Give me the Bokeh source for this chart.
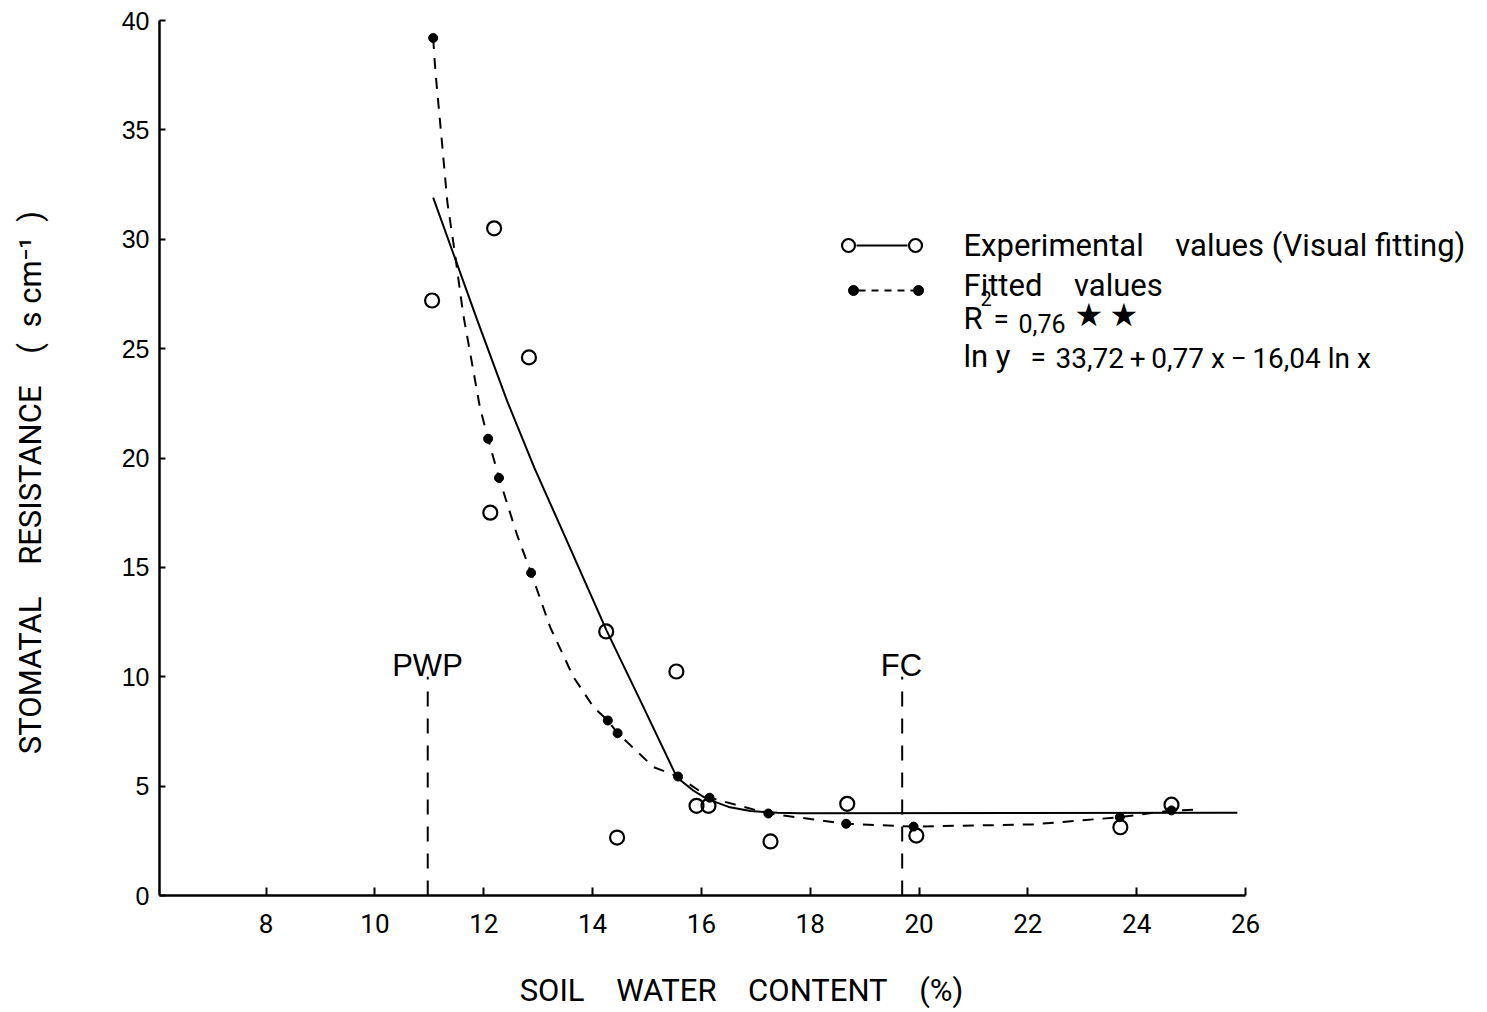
import math
from bokeh.plotting import figure
from bokeh.models import Label, FixedTicker, Range1d
from bokeh.embed import file_html
from bokeh.resources import INLINE

# ---------------- data ----------------
exp_x = [11.05, 12.19, 12.83, 12.12, 14.25, 15.54, 14.45, 15.91, 16.13, 17.27, 18.68, 19.95, 23.70, 24.64]
exp_y = [27.2, 30.5, 24.6, 17.5, 12.07, 10.24, 2.65, 4.1, 4.1, 2.47, 4.19, 2.74, 3.12, 4.15]

fit_x = [11.07, 12.08, 12.28, 12.87, 14.28, 14.46, 15.57, 16.15, 17.23, 18.66, 19.90, 23.69, 24.64]
fit_y = [39.2, 20.88, 19.09, 14.75, 8.0, 7.42, 5.44, 4.47, 3.75, 3.28, 3.15, 3.58, 3.89]

# visual-fitting curve (solid)
vis_x = [11.07, 11.44, 11.88, 12.43, 12.93, 13.53, 14.26, 14.88, 15.55, 15.85, 16.10, 16.50, 16.90, 17.40, 17.82, 25.85]
vis_y = [31.9, 29.35, 26.3, 22.6, 19.55, 16.2, 12.1, 8.9, 5.4, 4.8, 4.42, 4.05, 3.86, 3.78, 3.76, 3.78]

# regression curve (dashed)
reg_x = [11.07, 11.11, 11.24, 11.33, 11.47, 11.62, 11.93, 12.08, 12.28, 12.61, 12.87, 13.22, 13.65,
         14.02, 14.28, 14.46, 15.12, 15.57, 16.15, 17.23, 18.66, 19.90, 22.10, 23.69, 24.64, 25.11]
reg_y = [39.2, 37.7, 34.2, 31.7, 29.35, 26.6, 22.3, 20.88, 19.09, 16.5, 14.75, 12.27, 9.98,
         8.6, 8.0, 7.42, 5.87, 5.44, 4.47, 3.75, 3.28, 3.15, 3.25, 3.58, 3.89, 3.92]

pwp_x = 10.97
fc_x = 19.69
ref_top = 10.0

x_ticks = [8, 10, 12, 14, 16, 18, 20, 22, 24, 26]
y_ticks = [0, 5, 10, 15, 20, 25, 30, 35, 40]

EM, EN, TH = "\u2003", "\u2002", "\u2009"
x_title = f"SOIL{EM}WATER{EM}CONTENT{EM}(%)"
y_title = f"STOMATAL{EM}RESISTANCE{EM}({EN}s cm\u207b\u00b9{EN})"
leg_exp = f"Experimental{EM}values (Visual fitting)"
leg_fit = f"Fitted{EM}values"
r2_val = "0,76"
stars = f"\u2605{TH}\u2605"
eq_rhs = f"33,72{TH}+{TH}0,77 x{TH}\u2212{TH}16,04 ln x"

# ---------------- layout ----------------
W, H = 1487, 1012
X0, X1 = 6.04, 26.0
Y0, Y1 = 0.0, 40.0
AL, AR, AT, AB = 159, 1245, 20, 895  # axis pixel extents
SX = (X1 - X0) / (AR - AL)
SY = (Y1 - Y0) / (AB - AT)


def dx(px):
    return X0 + (px - AL) * SX


def dy(py):
    return Y0 + (AB - py) * SY


p = figure(width=W, height=H, min_border=0,
           x_range=Range1d(dx(0), dx(W)), y_range=Range1d(dy(H), dy(0)),
           output_backend="svg", toolbar_location=None,
           background_fill_color="white", border_fill_color="white")
p.outline_line_color = None
p.xgrid.visible = False
p.ygrid.visible = False

xa, ya = p.xaxis[0], p.yaxis[0]
xa.fixed_location = Y0
ya.fixed_location = X0
xa.bounds = (X0, X1)
ya.bounds = (Y0, Y1)
for ax in (xa, ya):
    ax.axis_line_color = "black"
    ax.axis_line_width = 2.5
    ax.major_tick_line_color = "black"
    ax.major_tick_line_width = 2
    ax.major_tick_out = 0
    ax.minor_tick_line_color = None
    ax.major_label_text_color = "black"

xa.major_tick_in = 8
ya.major_tick_in = 6
xa.ticker = FixedTicker(ticks=x_ticks)
ya.ticker = FixedTicker(ticks=y_ticks)
xa.major_label_text_font = "Roboto"
xa.major_label_text_font_size = "26px"
xa.major_label_standoff = 18
ya.major_label_text_font = "Liberation Sans"
ya.major_label_text_font_size = "25px"
ya.major_label_standoff = 10

# curves
p.line(vis_x, vis_y, line_color="black", line_width=2)
p.line(reg_x, reg_y, line_color="black", line_width=2, line_dash="11 9")

# PWP / FC reference lines
p.line([pwp_x, pwp_x], [0, ref_top], line_color="black", line_width=2, line_dash="15 12")
p.line([fc_x, fc_x], [0, ref_top], line_color="black", line_width=2, line_dash="15 12")

# points
p.scatter(exp_x, exp_y, marker="circle", size=14, fill_color=None,
          line_color="black", line_width=2.2)
p.scatter(fit_x, fit_y, marker="circle", size=9, fill_color="black",
          line_color="black")

# legend symbols
p.line([dx(856), dx(907)], [dy(245), dy(245)], line_color="black", line_width=2)
p.scatter([dx(848), dx(915)], [dy(245), dy(245)], marker="circle", size=13,
          fill_color=None, line_color="black", line_width=2.2)
p.line([dx(858), dx(913)], [dy(290), dy(290)], line_color="black", line_width=2, line_dash="7 6")
p.scatter([dx(853), dx(918)], [dy(290), dy(290)], marker="circle", size=10,
          fill_color="black", line_color="black")

NARROW = "Roboto"


def lab(px, py, text, size, font=NARROW, align="left", angle=0.0):
    p.add_layout(Label(x=dx(px), y=dy(py), text=text, text_font=font,
                       text_font_size=f"{size}px", text_align=align,
                       text_baseline="middle", text_color="black", angle=angle))


lab(963, 245, leg_exp, 31)
lab(963, 285, leg_fit, 31)
lab(963, 318, "R", 31)
lab(980, 298, "2", 20)
lab(993, 318, "=", 28)
lab(1018, 323, r2_val, 25)
lab(1074, 314, stars, 32, font="DejaVu Sans")
lab(963, 356, "ln y", 31)
lab(1030, 356, "=", 28)
lab(1055, 358, eq_rhs, 28)

lab(427, 665, "PWP", 31, font="Liberation Sans", align="center")
lab(901, 665, "FC", 31, font="Liberation Sans", align="center")

# axis titles
lab(741, 990, x_title, 31, align="center")
lab(30, 482, y_title, 31, align="center", angle=math.pi / 2)

open("out.html", "w").write(file_html(p, INLINE))
